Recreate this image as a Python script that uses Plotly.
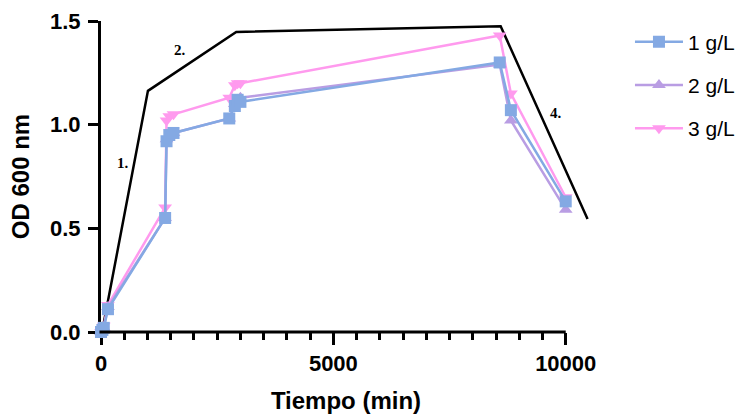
import plotly.graph_objects as go

# ---- data ----
tiempo = [0, 30, 60, 150, 1380, 1410, 1470, 1560, 2760, 2880, 2940, 3000, 8580, 8820, 10000]
od_1gL = [0.00, 0.01, 0.02, 0.11, 0.55, 0.92, 0.95, 0.96, 1.03, 1.09, 1.12, 1.11, 1.30, 1.07, 0.63]
od_2gL = [0.00, 0.01, 0.02, 0.12, 0.55, 0.93, 0.95, 0.96, 1.03, 1.10, 1.12, 1.13, 1.29, 1.02, 0.59]
od_3gL = [0.00, 0.01, 0.03, 0.13, 0.60, 1.02, 1.04, 1.05, 1.13, 1.19, 1.20, 1.20, 1.43, 1.15, 0.65]

fase_t = [40, 1010, 2910, 8600, 10470]
fase_od = [0.02, 1.163, 1.447, 1.475, 0.545]
fase_labels = ["1.", "2.", "3.", "4."]
fase_label_t = [463, 1690, 5390, 9785]
fase_label_od = [0.815, 1.36, 1.505, 1.055]

series_names = ["1 g/L", "2 g/L", "3 g/L"]
series_colors = ["#84a9e3", "#b99de3", "#ff9aee"]
series_symbols = ["square", "triangle-up", "triangle-down"]
series_values = [od_1gL, od_2gL, od_3gL]

x_ticks = [0, 5000, 10000]
x_ticktext = ["0", "5000", "10000"]
x_minor = list(range(500, 10000, 500))
y_ticks = [0, 0.5, 1.0, 1.5]
y_ticktext = ["0.0", "0.5", "1.0", "1.5"]

X_MAX = 10544
fig = go.Figure()

fig.add_trace(go.Scatter(x=fase_t, y=fase_od, mode="lines",
                         line=dict(color="black", width=2.5),
                         showlegend=False, hoverinfo="skip"))

# draw pink first so blue ends on top; legend order kept via legendrank
for i in [2, 1, 0]:
    fig.add_trace(go.Scatter(
        x=tiempo, y=series_values[i], mode="lines+markers",
        name=series_names[i], legendgroup=series_names[i], legendrank=i + 1,
        line=dict(color=series_colors[i], width=2.5),
        marker=dict(symbol=series_symbols[i], size=12, color=series_colors[i]),
        cliponaxis=False))

# invisible helper trace carrying the minor-tick axis
fig.add_trace(go.Scatter(x=[0], y=[0], xaxis="x2", mode="markers",
                         marker=dict(opacity=0), showlegend=False, hoverinfo="skip"))

for lab, tx, ty in zip(fase_labels, fase_label_t, fase_label_od):
    fig.add_annotation(x=tx, y=ty, text="<b>" + lab + "</b>", showarrow=False,
                       font=dict(family="Liberation Serif", size=15, color="black"))

# x axis line only up to 10000
fig.add_shape(type="line", xref="paper", yref="paper", x0=-0.003, x1=10000 / X_MAX,
              y0=0, y1=0, line=dict(color="black", width=3))

tickfont = dict(family="Liberation Sans, Arial", size=22, color="black", weight="bold")
fig.update_layout(
    width=745, height=414, autosize=False,
    margin=dict(l=101, r=154, t=21, b=82),
    plot_bgcolor="white", paper_bgcolor="white",
    xaxis=dict(range=[0, X_MAX], showline=False, showgrid=False, zeroline=False,
               automargin=False,
               tickmode="array", tickvals=x_ticks, ticktext=x_ticktext,
               ticks="outside", ticklen=12,
               tickwidth=3, tickcolor="black", tickfont=tickfont,
               title=dict(text="Tiempo (min)", standoff=17,
                          font=dict(family="Liberation Sans, Arial", size=24,
                                    color="black", weight="bold")),
               layer="below traces"),
    xaxis2=dict(range=[0, X_MAX], overlaying="x", anchor="y", side="bottom",
                showline=False, showgrid=False, zeroline=False, automargin=False,
                tickmode="array", tickvals=x_minor, showticklabels=False,
                ticks="outside", ticklen=7, tickwidth=2.5, tickcolor="black",
                layer="below traces"),
    yaxis=dict(range=[0, 1.5], showline=True, linecolor="black", linewidth=3,
               showgrid=False, zeroline=False, automargin=False,
               tickmode="array", tickvals=y_ticks, ticktext=y_ticktext,
               ticks="outside", ticklen=10, tickwidth=3, tickcolor="black",
               tickfont=tickfont, ticklabelstandoff=3,
               title=dict(text="OD 600 nm", standoff=14,
                          font=dict(family="Liberation Sans, Arial", size=24,
                                    color="black", weight="bold")),
               layer="below traces"),
    legend=dict(xref="container", yref="container", x=0.8456, y=0.948,
                xanchor="left", yanchor="top",
                font=dict(family="Liberation Sans, Arial", size=21, color="black"),
                tracegroupgap=13, itemwidth=48, bgcolor="rgba(0,0,0,0)"),
)

fig.write_html("out.html", config={"responsive": False, "displayModeBar": False},
               post_script="document.body.style.margin='0px';")
